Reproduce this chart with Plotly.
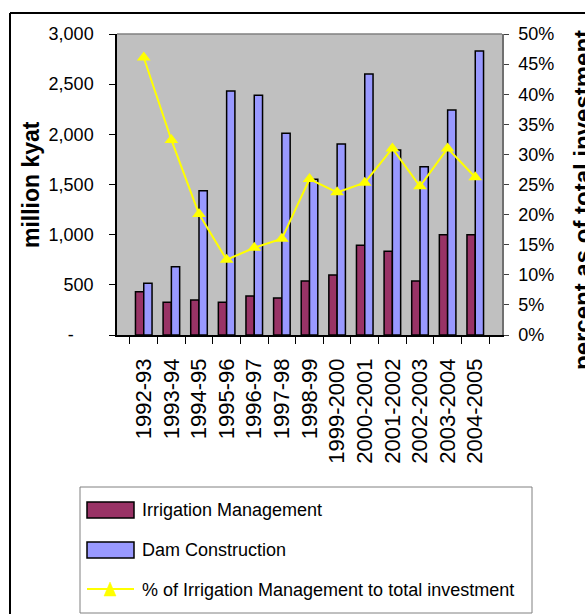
import plotly.graph_objects as go

categories = ["1992-93", "1993-94", "1994-95", "1995-96", "1996-97", "1997-98",
              "1998-99", "1999-2000", "2000-2001", "2001-2002", "2002-2003",
              "2003-2004", "2004-2005"]
irrigation = [432, 326, 349, 326, 389, 369, 538, 598, 894, 834, 538, 1000, 1000]
dam = [515, 681, 1438, 2432, 2389, 2010, 1552, 1904, 2601, 1844, 1677, 2243, 2831]
pct = [46.1, 32.4, 20.1, 12.5, 14.5, 16.0, 25.9, 23.7, 25.3, 31.0, 24.7, 31.0, 26.2]

left_ticks = [0, 500, 1000, 1500, 2000, 2500, 3000]
left_ticktext = ["-\u00a0\u00a0\u00a0\u00a0", "500", "1,000", "1,500", "2,000", "2,500", "3,000"]

names = ["Irrigation Management", "Dam Construction",
         "% of Irrigation Management to total investment"]
c_irr = "#993366"
c_dam = "#9999FF"
c_pct = "#FFFF00"

W, H = 585, 614
L, R, T, B = 117, 502, 34, 335
FONT = "Liberation Sans, Arial, sans-serif"


def px(x):
    return (x - L) / (R - L)


def py(y):
    return (B - y) / (B - T)


fig = go.Figure()
fig.add_trace(go.Bar(x=categories, y=irrigation, name=names[0],
                     marker=dict(color=c_irr, line=dict(color="black", width=1.5))))
fig.add_trace(go.Bar(x=categories, y=dam, name=names[1],
                     marker=dict(color=c_dam, line=dict(color="black", width=1.5))))
fig.add_trace(go.Scatter(x=categories, y=[p / 100 for p in pct], name=names[2],
                         yaxis="y2", mode="lines+markers",
                         line=dict(color=c_pct, width=2),
                         marker=dict(symbol="triangle-up", size=12, color=c_pct)))

shapes = []
# plot area top border
shapes.append(dict(type="line", xref="paper", yref="paper", x0=0, x1=1, y0=1, y1=1,
                   line=dict(color="#808080", width=1.5)))
# outer frame
shapes.append(dict(type="line", xref="paper", yref="paper", x0=px(10), x1=px(10),
                   y0=py(13), y1=py(630), line=dict(color="black", width=2)))
shapes.append(dict(type="line", xref="paper", yref="paper", x0=px(10), x1=px(600),
                   y0=py(13), y1=py(13), line=dict(color="black", width=2)))
# legend box
shapes.append(dict(type="rect", xref="paper", yref="paper", x0=px(80), x1=px(532),
                   y0=py(487), y1=py(613), fillcolor="white",
                   line=dict(color="#808080", width=1)))
shapes.append(dict(type="rect", xref="paper", yref="paper", x0=px(87), x1=px(134),
                   y0=py(502), y1=py(518), fillcolor=c_irr,
                   line=dict(color="black", width=1.5)))
shapes.append(dict(type="rect", xref="paper", yref="paper", x0=px(87), x1=px(134),
                   y0=py(542), y1=py(558), fillcolor=c_dam,
                   line=dict(color="black", width=1.5)))
shapes.append(dict(type="line", xref="paper", yref="paper", x0=px(87), x1=px(134),
                   y0=py(589), y1=py(589), line=dict(color=c_pct, width=2)))
shapes.append(dict(type="path", xref="paper", yref="paper",
                   path=f"M {px(104)} {py(596)} L {px(116)} {py(596)} L {px(110)} {py(582)} Z",
                   fillcolor=c_pct, line=dict(color=c_pct, width=0.5)))

annotations = []
for i, (txt, yy) in enumerate(zip(names, [510, 550, 590])):
    annotations.append(dict(text=txt, xref="paper", yref="paper", x=px(140), y=py(yy),
                            xanchor="left", yanchor="middle", showarrow=False,
                            font=dict(family=FONT, size=18, color="black")))
annotations.append(dict(text="<b>million kyat</b>", xref="paper", yref="paper",
                        x=px(31), y=py(185), xanchor="center", yanchor="middle",
                        textangle=-90, showarrow=False,
                        font=dict(family=FONT, size=23, color="black")))
annotations.append(dict(text="<b>percent as of total investment</b>", xref="paper", yref="paper",
                        x=px(582), y=py(200), xanchor="center", yanchor="middle",
                        textangle=-90, showarrow=False,
                        font=dict(family=FONT, size=24, color="black")))

fig.update_layout(
    width=W, height=H,
    margin=dict(l=L, r=W - R, t=T, b=H - B, pad=0, autoexpand=False),
    paper_bgcolor="white",
    plot_bgcolor="#C0C0C0",
    barmode="group", bargap=0.4, bargroupgap=0,
    showlegend=False,
    font=dict(family=FONT, color="black"),
    xaxis=dict(type="category", tickangle=-90, tickson="boundaries",
               ticks="outside", ticklen=7, tickcolor="black", tickwidth=1,
               showline=True, linecolor="black", linewidth=1.5,
               showgrid=False, tickfont=dict(family=FONT, size=22, color="black"),
               ticklabelstandoff=13, automargin=False),
    yaxis=dict(range=[0, 3000], tickvals=left_ticks, ticktext=left_ticktext,
               ticks="outside", ticklen=6, tickcolor="black",
               showline=True, linecolor="black", linewidth=1.5,
               showgrid=False, zeroline=False,
               tickfont=dict(family=FONT, size=18, color="black"),
               ticklabelstandoff=12, automargin=False),
    yaxis2=dict(range=[0, 0.5], dtick=0.05, tickformat=".0%", overlaying="y",
                side="right", ticks="outside", ticklen=5, tickcolor="#404040",
                showline=True, linecolor="#707070", linewidth=1.5,
                showgrid=False, zeroline=False,
                tickfont=dict(family=FONT, size=18, color="black"),
                ticklabelstandoff=6, automargin=False),
    shapes=shapes,
    annotations=annotations,
)

fig.write_html("out.html", config={"displayModeBar": False},
               post_script="document.body.style.margin='0px';document.body.style.overflow='hidden';")
